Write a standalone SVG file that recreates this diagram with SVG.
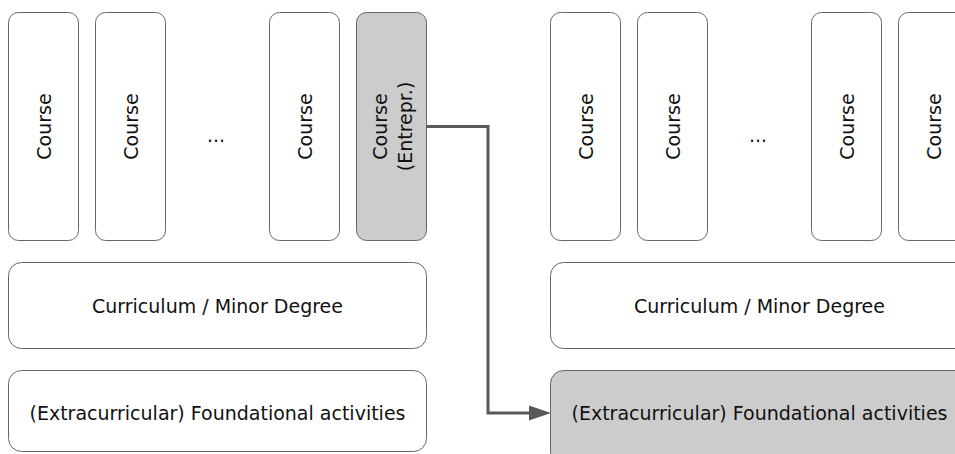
<svg xmlns="http://www.w3.org/2000/svg" width="955" height="454" viewBox="0 0 955 454">
  <defs>
    <style>
      .box { fill: #ffffff; stroke: #666666; stroke-width: 1; }
      .hl { fill: #cccccc; stroke: #666666; stroke-width: 1; }
      .lbl { font-family: "DejaVu Sans", Verdana, sans-serif; font-size: 19px; fill: #111111; text-anchor: middle; dominant-baseline: central; }
      .conn { fill: none; stroke: #595959; stroke-width: 3; }
    </style>
  </defs>

  <!-- Left column: courses -->
  <g id="left-course-1">
    <rect class="box" x="8.5" y="12.5" width="70" height="228" rx="10"/>
    <text class="lbl" transform="translate(43.5,126.5) rotate(-90)">Course</text>
  </g>
  <g id="left-course-2">
    <rect class="box" x="95.5" y="12.5" width="70" height="228" rx="10"/>
    <text class="lbl" transform="translate(130.5,126.5) rotate(-90)">Course</text>
  </g>
  <g id="left-ellipsis">
    <text class="lbl" x="216" y="135">...</text>
  </g>
  <g id="left-course-n">
    <rect class="box" x="269.5" y="12.5" width="70" height="228" rx="10"/>
    <text class="lbl" transform="translate(304.5,126.5) rotate(-90)">Course</text>
  </g>
  <g id="left-course-entrepr">
    <rect class="hl" x="356.5" y="12.5" width="70" height="228" rx="10"/>
    <text class="lbl" transform="translate(380,126.5) rotate(-90)">Course</text>
    <text class="lbl" transform="translate(405,126.5) rotate(-90)">(Entrepr.)</text>
  </g>
  <g id="left-curriculum">
    <rect class="box" x="8.5" y="262.5" width="418" height="86" rx="13"/>
    <text class="lbl" x="217.5" y="305.5">Curriculum / Minor Degree</text>
  </g>
  <g id="left-foundational">
    <rect class="box" x="8.5" y="370.5" width="418" height="81" rx="13"/>
    <text class="lbl" x="217.5" y="413">(Extracurricular) Foundational activities</text>
  </g>

  <!-- Right column: courses -->
  <g id="right-course-1">
    <rect class="box" x="550.5" y="12.5" width="70" height="228" rx="10"/>
    <text class="lbl" transform="translate(585.5,126.5) rotate(-90)">Course</text>
  </g>
  <g id="right-course-2">
    <rect class="box" x="637.5" y="12.5" width="70" height="228" rx="10"/>
    <text class="lbl" transform="translate(672.5,126.5) rotate(-90)">Course</text>
  </g>
  <g id="right-ellipsis">
    <text class="lbl" x="758" y="135">...</text>
  </g>
  <g id="right-course-n">
    <rect class="box" x="811.5" y="12.5" width="70" height="228" rx="10"/>
    <text class="lbl" transform="translate(846.5,126.5) rotate(-90)">Course</text>
  </g>
  <g id="right-course-last">
    <rect class="box" x="898.5" y="12.5" width="70" height="228" rx="10"/>
    <text class="lbl" transform="translate(933.5,126.5) rotate(-90)">Course</text>
  </g>
  <g id="right-curriculum">
    <rect class="box" x="550.5" y="262.5" width="418" height="86" rx="13"/>
    <text class="lbl" x="759.5" y="305.5">Curriculum / Minor Degree</text>
  </g>
  <g id="right-foundational">
    <rect class="hl" x="550.5" y="370.5" width="418" height="95" rx="13"/>
    <text class="lbl" x="759.5" y="413">(Extracurricular) Foundational activities</text>
  </g>

  <!-- Connectors: elbow from the entrepreneurship course to the foundational activities -->
  <g id="connectors">
    <path class="conn" d="M426.5,126.5 H488 V413 H531"/>
    <path d="M529,405.5 L551,413 L529,420.5 z" fill="#595959"/>
  </g>
</svg>
